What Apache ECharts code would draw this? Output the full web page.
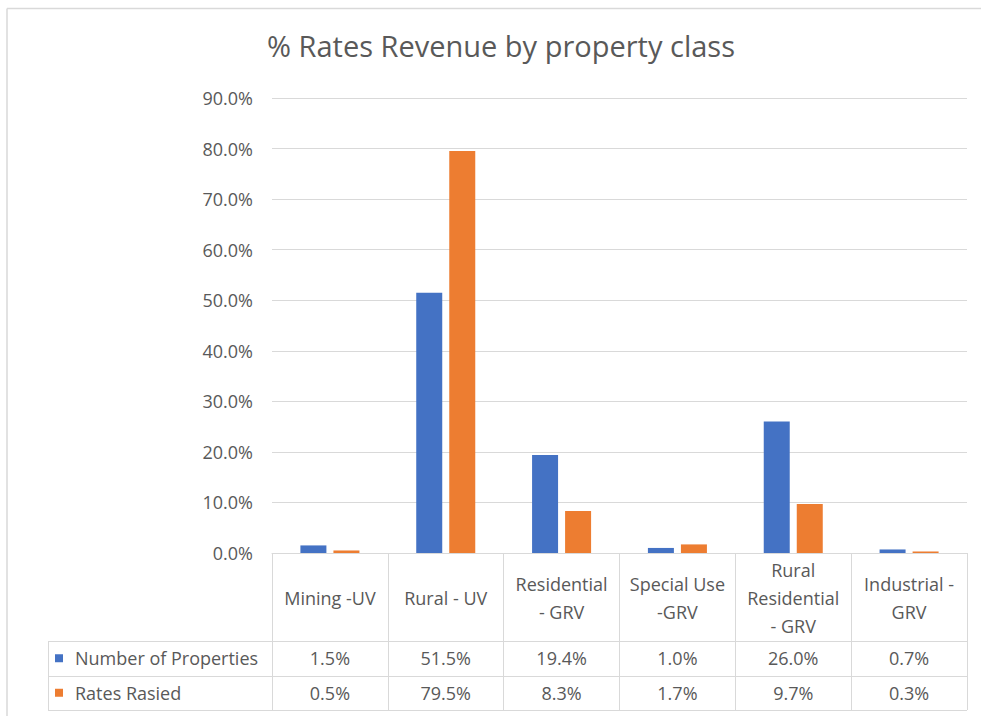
<!DOCTYPE html>
<html>
<head>
<meta charset="utf-8">
<script src="https://cdn.jsdelivr.net/npm/echarts@6/dist/echarts.min.js"></script>
<style>
html,body{margin:0;padding:0;background:#fff;}
#c{width:981px;height:716px;}
</style>
</head>
<body>
<div id="c"></div>
<script>
var titleText = '% Rates Revenue by property class';
var categories = ['Mining -UV', 'Rural - UV', 'Residential\n- GRV', 'Special Use\n-GRV', 'Rural\nResidential\n- GRV', 'Industrial -\nGRV'];
var seriesNames = ['Number of Properties', 'Rates Rasied'];
var numberOfProperties = [1.5, 51.5, 19.4, 1.0, 26.0, 0.7];
var ratesRaised = [0.5, 79.5, 8.3, 1.7, 9.7, 0.3];
var yTicks = [0, 10, 20, 30, 40, 50, 60, 70, 80, 90];

var colors = ['#4472C4', '#ED7D31'];
var textColor = '#595959';
var lineColor = '#D9D9D9';
var font = '"Open Sans", "Noto Sans", sans-serif';
var fs = 18;

var chart = echarts.init(document.getElementById('c'), null, {renderer: 'svg'});

var option = {
  animation: false,
  backgroundColor: '#ffffff',
  title: {
    text: titleText,
    left: 501,
    textAlign: 'center',
    top: 31,
    padding: 0,
    textStyle: {fontFamily: font, fontSize: 29, fontWeight: 'normal', color: textColor}
  },
  grid: {left: 272, right: 14, top: 98, bottom: 163, containLabel: false},
  xAxis: {
    type: 'category',
    data: categories,
    boundaryGap: true,
    axisLine: {show: true, lineStyle: {color: lineColor, width: 1}},
    axisTick: {show: true, interval: 0, length: 157, alignWithLabel: false, lineStyle: {color: lineColor, width: 1}},
    axisLabel: {
      interval: 0, margin: 45, verticalAlign: 'middle', lineHeight: 28,
      fontFamily: font, fontSize: fs, color: textColor, align: 'center'
    },
    splitLine: {show: false}
  },
  yAxis: {
    type: 'value',
    min: yTicks[0],
    max: yTicks[yTicks.length - 1],
    interval: yTicks[1] - yTicks[0],
    axisLine: {show: false},
    axisTick: {show: false},
    axisLabel: {
      margin: 19, fontFamily: font, fontSize: fs, color: textColor,
      formatter: function (v) { return v.toFixed(1) + '%'; }
    },
    splitLine: {show: true, lineStyle: {color: lineColor, width: 1}}
  },
  series: [
    {name: seriesNames[0], type: 'bar', data: numberOfProperties, barWidth: 26, barGap: '27%', itemStyle: {color: colors[0]}},
    {name: seriesNames[1], type: 'bar', data: ratesRaised, barWidth: 26, barGap: '27%', itemStyle: {color: colors[1]}}
  ]
};
chart.setOption(option);

// Data table rows below the category header, positioned from the axes' own scales
var rows = [numberOfProperties, ratesRaised];
var y0 = chart.convertToPixel({yAxisIndex: 0}, 0);
var c0 = chart.convertToPixel({xAxisIndex: 0}, 0);
var c1 = chart.convertToPixel({xAxisIndex: 0}, 1);
var band = c1 - c0;
var gridLeft = c0 - band / 2;
var gridRight = gridLeft + band * categories.length;
var headerH = 88, rowH = 34.5;
var legendLeft = 48;
var els = [];
// outer chart frame (top and left edges visible)
els.push({type: 'line', shape: {x1: 7, y1: 8.5, x2: 981, y2: 8.5}, style: {stroke: lineColor, lineWidth: 1.5}});
els.push({type: 'line', shape: {x1: 7, y1: 8.5, x2: 7, y2: 716}, style: {stroke: lineColor, lineWidth: 1.5}});
for (var r = 0; r <= rows.length; r++) {
  var yy = Math.round(y0 + headerH + r * rowH) + 0.5;
  els.push({type: 'line', shape: {x1: legendLeft, y1: yy, x2: gridRight, y2: yy}, style: {stroke: lineColor, lineWidth: 1}});
}
els.push({type: 'line', shape: {x1: legendLeft + 0.5, y1: y0 + headerH, x2: legendLeft + 0.5, y2: y0 + headerH + rows.length * rowH}, style: {stroke: lineColor, lineWidth: 1}});
for (var r2 = 0; r2 < rows.length; r2++) {
  var cy = y0 + headerH + (r2 + 0.5) * rowH;
  els.push({type: 'rect', shape: {x: 55, y: cy - 4, width: 8, height: 8}, style: {fill: colors[r2]}});
  els.push({type: 'text', x: 75, y: cy, style: {text: seriesNames[r2], fontFamily: font, fontSize: fs, fill: textColor, textAlign: 'left', textVerticalAlign: 'middle'}});
  for (var i = 0; i < categories.length; i++) {
    var cx = chart.convertToPixel({xAxisIndex: 0}, i);
    els.push({type: 'text', x: cx, y: cy, style: {text: rows[r2][i].toFixed(1) + '%', fontFamily: font, fontSize: fs, fill: textColor, textAlign: 'center', textVerticalAlign: 'middle'}});
  }
}
chart.setOption({graphic: {elements: els}});
</script>
</body>
</html>
